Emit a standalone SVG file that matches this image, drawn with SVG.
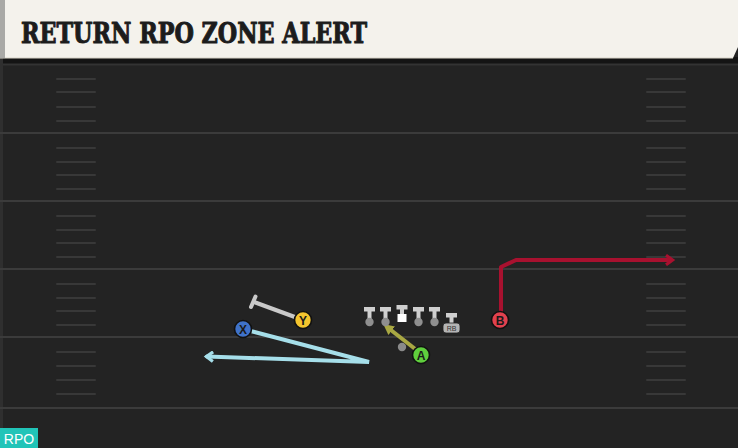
<svg xmlns="http://www.w3.org/2000/svg" width="738" height="448" viewBox="0 0 738 448">
<defs>
<style>
.yl{stroke:#3b3b3b;stroke-width:2}
.hm{stroke:#383838;stroke-width:2;stroke-linecap:round}
.lbl{font-family:"Liberation Sans",Arial,sans-serif;font-weight:bold;font-size:12px;text-anchor:middle;fill:#1a1a1a}
.pl{stroke:#111;stroke-width:1.6}
.tee{fill:#cfcfcf}
.dot{fill:#8f8f8f}
</style>
<marker id="arrRed" viewBox="0 0 10 10" refX="7" refY="5" markerWidth="3" markerHeight="3" orient="auto" markerUnits="strokeWidth"><path d="M2,1 L7.5,5 L2,9" fill="none" stroke="#a8112f" stroke-width="2.6" stroke-linejoin="miter"/></marker>
<marker id="arrBlue" viewBox="0 0 10 10" refX="7" refY="5" markerWidth="3" markerHeight="3" orient="auto" markerUnits="strokeWidth"><path d="M2,1 L7.5,5 L2,9" fill="none" stroke="#a6dfea" stroke-width="2.6" stroke-linejoin="miter"/></marker>
<marker id="arrOlive" viewBox="0 0 10 10" refX="5" refY="5" markerWidth="3" markerHeight="3" orient="auto" markerUnits="strokeWidth"><path d="M0,0.5 L9,5 L0,9.5 Z" fill="#a9a843"/></marker>
</defs>
<rect width="738" height="448" fill="#232323"/>
<rect x="0" y="57" width="738" height="7" fill="#141414"/>
<line x1="0" y1="64.5" x2="738" y2="64.5" stroke="#333" stroke-width="2"/>
<rect x="0" y="57" width="3" height="391" fill="#2f2f2f"/>
<g id="field">
<line class="yl" x1="0" y1="133" x2="738" y2="133"/>
<line class="yl" x1="0" y1="201" x2="738" y2="201"/>
<line class="yl" x1="0" y1="269" x2="738" y2="269"/>
<line class="yl" x1="0" y1="337" x2="738" y2="337"/>
<line class="yl" x1="0" y1="408" x2="738" y2="408"/>
<g id="hashL">
<line class="hm" x1="57" y1="79" x2="95" y2="79"/><line class="hm" x1="57" y1="92" x2="95" y2="92"/><line class="hm" x1="57" y1="107" x2="95" y2="107"/><line class="hm" x1="57" y1="121" x2="95" y2="121"/>
<line class="hm" x1="57" y1="148" x2="95" y2="148"/><line class="hm" x1="57" y1="162" x2="95" y2="162"/><line class="hm" x1="57" y1="175" x2="95" y2="175"/><line class="hm" x1="57" y1="189" x2="95" y2="189"/>
<line class="hm" x1="57" y1="216" x2="95" y2="216"/><line class="hm" x1="57" y1="230" x2="95" y2="230"/><line class="hm" x1="57" y1="243" x2="95" y2="243"/><line class="hm" x1="57" y1="257" x2="95" y2="257"/>
<line class="hm" x1="57" y1="284" x2="95" y2="284"/><line class="hm" x1="57" y1="298" x2="95" y2="298"/><line class="hm" x1="57" y1="311" x2="95" y2="311"/><line class="hm" x1="57" y1="325" x2="95" y2="325"/>
<line class="hm" x1="57" y1="352" x2="95" y2="352"/><line class="hm" x1="57" y1="366" x2="95" y2="366"/><line class="hm" x1="57" y1="380" x2="95" y2="380"/><line class="hm" x1="57" y1="394" x2="95" y2="394"/>
</g>
<g id="hashR">
<line class="hm" x1="647" y1="79" x2="685" y2="79"/><line class="hm" x1="647" y1="92" x2="685" y2="92"/><line class="hm" x1="647" y1="107" x2="685" y2="107"/><line class="hm" x1="647" y1="121" x2="685" y2="121"/>
<line class="hm" x1="647" y1="148" x2="685" y2="148"/><line class="hm" x1="647" y1="162" x2="685" y2="162"/><line class="hm" x1="647" y1="175" x2="685" y2="175"/><line class="hm" x1="647" y1="189" x2="685" y2="189"/>
<line class="hm" x1="647" y1="216" x2="685" y2="216"/><line class="hm" x1="647" y1="230" x2="685" y2="230"/><line class="hm" x1="647" y1="243" x2="685" y2="243"/><line class="hm" x1="647" y1="257" x2="685" y2="257"/>
<line class="hm" x1="647" y1="284" x2="685" y2="284"/><line class="hm" x1="647" y1="298" x2="685" y2="298"/><line class="hm" x1="647" y1="311" x2="685" y2="311"/><line class="hm" x1="647" y1="325" x2="685" y2="325"/>
<line class="hm" x1="647" y1="352" x2="685" y2="352"/><line class="hm" x1="647" y1="366" x2="685" y2="366"/><line class="hm" x1="647" y1="380" x2="685" y2="380"/><line class="hm" x1="647" y1="394" x2="685" y2="394"/>
</g>
</g>
<g id="header">
<path d="M0,0 H738 V47 L733,58 H0 Z" fill="#f4f2ec"/>
<line x1="0" y1="58" x2="733" y2="58" stroke="#d8d4c8" stroke-width="1"/>
<rect x="0" y="0" width="5" height="58" fill="#a9a9a6"/>
<text x="21" y="43" font-family="'DejaVu Serif','Liberation Serif',serif" font-weight="bold" font-size="27" textLength="346" lengthAdjust="spacingAndGlyphs" fill="#1c1c1c" stroke="#1c1c1c" stroke-width="1" stroke-linejoin="round">RETURN RPO ZONE ALERT</text>
</g>
<g id="connectors">
<path d="M501,319 V267 L516,260 H672" fill="none" stroke="#a8112f" stroke-width="4" stroke-linejoin="round" marker-end="url(#arrRed)"/>
<path d="M243,329 L369,362 L207,356.5" fill="none" stroke="#a6dfea" stroke-width="4" stroke-linejoin="miter" stroke-linecap="round" marker-end="url(#arrBlue)"/>
<line x1="303" y1="320" x2="254" y2="302" stroke="#c9c9c9" stroke-width="4"/>
<line x1="251" y1="307" x2="255.5" y2="296.5" stroke="#c9c9c9" stroke-width="4" stroke-linecap="round"/>
<line x1="419" y1="352" x2="387" y2="327" stroke="#a9a843" stroke-width="4" marker-end="url(#arrOlive)"/>
</g>
<g id="line">
<g id="ol1"><rect class="tee" x="364" y="307" width="11" height="4.5"/><rect class="tee" x="367.5" y="310" width="4" height="10"/><circle class="dot" cx="369.5" cy="322" r="4.2"/></g>
<g id="ol2"><rect class="tee" x="380" y="307" width="11" height="4.5"/><rect class="tee" x="383.5" y="310" width="4" height="10"/><circle class="dot" cx="385.5" cy="322" r="4.2"/></g>
<g id="ol3"><rect class="tee" x="396.5" y="305" width="11" height="4.5"/><rect class="tee" x="400" y="308" width="4" height="6"/><rect x="397.5" y="314" width="9" height="8" fill="#ffffff"/></g>
<g id="ol4"><rect class="tee" x="413" y="307" width="11" height="4.5"/><rect class="tee" x="416.5" y="310" width="4" height="10"/><circle class="dot" cx="418.5" cy="322" r="4.2"/></g>
<g id="ol5"><rect class="tee" x="429" y="307" width="11" height="4.5"/><rect class="tee" x="432.5" y="310" width="4" height="10"/><circle class="dot" cx="434.5" cy="322" r="4.2"/></g>
<g id="rb"><rect class="tee" x="446" y="313" width="11" height="4.5"/><rect class="tee" x="449.5" y="316" width="4" height="8"/><rect x="443" y="323" width="17" height="10" rx="3" fill="#b4b4b4" stroke="#222" stroke-width="0.8"/><text x="451.5" y="331" font-family="'Liberation Sans',Arial,sans-serif" font-size="7" text-anchor="middle" fill="#333">RB</text></g>
<circle id="dot2" cx="402" cy="347" r="4.2" fill="#8a8a8a"/>
</g>
<g id="nodeX"><circle class="pl" cx="243" cy="329" r="8.5" fill="#3f72c9"/><text class="lbl" x="243" y="333.5">X</text></g>
<g id="nodeY"><circle class="pl" cx="303" cy="320" r="8.5" fill="#f4c52e"/><text class="lbl" x="303" y="324.5">Y</text></g>
<g id="nodeA"><circle class="pl" cx="421" cy="355" r="8.5" fill="#5fce3d"/><text class="lbl" x="421" y="359.5">A</text></g>
<g id="nodeB"><circle class="pl" cx="500" cy="320" r="8.5" fill="#e2414e"/><text class="lbl" x="500" y="324.5">B</text></g>
<g id="tag"><rect x="0" y="428" width="38" height="20" fill="#21c4b8"/><text x="19" y="444" font-family="'Liberation Sans',Arial,sans-serif" font-size="14" text-anchor="middle" fill="#ffffff">RPO</text></g>
</svg>
